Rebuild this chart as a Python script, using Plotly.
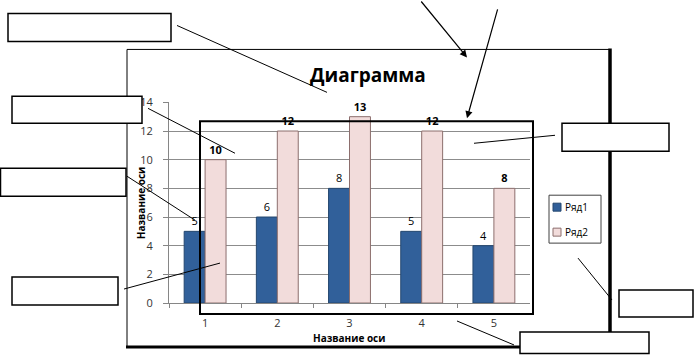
import plotly.graph_objects as go

categories = ["1", "2", "3", "4", "5"]
series1 = [5, 6, 8, 5, 4]
series2 = [10, 12, 13, 12, 8]
series_names = ["Ряд1", "Ряд2"]
yticks = [0, 2, 4, 6, 8, 10, 12, 14]
title_text = "Диаграмма"
axis_title = "Название оси"

W, H = 694, 361
# the photographed page shows slightly compressed vertically; compensate
YOFF, YSC = 7.5, 0.96
def px(x):
    return x / W
def py(y):
    yp = (y - YOFF) / YSC
    yp = min(yp, H - 0.5)
    return 1 - yp / H

FONT = "Open Sans"
C1, C1L = "#31609A", "#24476F"
C2, C2L = "#F2DCDB", "#8C6E6D"

fig = go.Figure()
fig.add_trace(go.Bar(
    x=categories, y=series1, name=series_names[0],
    marker=dict(color=C1, line=dict(color=C1L, width=1)),
    text=series1, textposition="outside", cliponaxis=False,
    textfont=dict(family=FONT, size=11, color="#000000"),
    showlegend=False,
))
fig.add_trace(go.Bar(
    x=categories, y=series2, name=series_names[1],
    marker=dict(color=C2, line=dict(color=C2L, width=1)),
    text=series2, texttemplate="<b>%{y}</b>", textposition="outside", cliponaxis=False,
    textfont=dict(family=FONT, size=11, color="#000000"),
    showlegend=False,
))

shapes = []
def line(x0, y0, x1, y1, w=1, color="black"):
    shapes.append(dict(type="line", xref="paper", yref="paper",
                       x0=px(x0), y0=py(y0), x1=px(x1), y1=py(y1),
                       line=dict(color=color, width=w), layer="above"))
def box(x0, y0, x1, y1, w=1.5, fill="white", color="black"):
    shapes.append(dict(type="rect", xref="paper", yref="paper",
                       x0=px(x0), y0=py(y0), x1=px(x1), y1=py(y1),
                       line=dict(color=color, width=w), fillcolor=fill, layer="above"))

# chart frame
line(127, 49, 610, 49, 1)
line(127, 49, 127, 347, 1)
line(610, 48, 610, 348, 3.5)
line(126, 347, 611, 347, 3)
# highlighted plot area
shapes.append(dict(type="rect", xref="paper", yref="paper",
                   x0=px(200), y0=py(121), x1=px(533), y1=py(314),
                   line=dict(color="black", width=2), layer="above"))
# legend (box + keys)
box(549, 195, 601, 243, w=1, color="#404040")
box(553, 203, 561, 211, w=1, fill=C1, color=C1L)
box(553, 228, 561, 236, w=1, fill=C2, color=C2L)
# callout lines
line(177, 25, 327, 92)
line(148, 108, 235, 153)
line(127, 176, 195, 220)
line(124, 289, 220, 263)
line(474, 143, 555, 135)
line(578, 258, 612, 300)
line(457, 321, 514, 345)
# callout boxes
box(8, 13, 171, 41)
box(12, 96, 142, 123)
box(0.5, 168, 126, 196)
box(12, 277, 118, 305)
box(562, 123, 669, 151)
box(619, 290, 693, 317)
box(520, 332, 649, 359)

annotations = [
    dict(text="<b>" + title_text + "</b>", x=px(368), y=py(75), xref="paper", yref="paper",
         xanchor="center", yanchor="middle",
         showarrow=False, font=dict(family=FONT, size=19, color="#000000")),
    dict(text="<b>" + axis_title + "</b>", x=px(349), y=py(338), xref="paper", yref="paper",
         xanchor="center", yanchor="middle",
         showarrow=False, font=dict(family=FONT, size=10, color="#000000")),
    dict(text="<b>" + axis_title + "</b>", x=px(141), y=py(203), xref="paper", yref="paper",
         xanchor="center", yanchor="middle",
         showarrow=False, textangle=-90, font=dict(family=FONT, size=10, color="#000000")),
]
for name, ly in zip(series_names, [207, 232]):
    annotations.append(dict(text=name, x=px(563), y=py(ly), xref="paper", yref="paper",
                            xanchor="left", yanchor="middle", showarrow=False,
                            font=dict(family=FONT, size=10, color="#000000")))
for (tx, ty, hx, hy) in [(420, 0, 467, 57), (498, 12, 467, 118)]:
    hyp = (hy - YOFF) / YSC
    typ = (ty - YOFF) / YSC
    annotations.append(dict(text="", x=px(hx), y=1 - hyp / H, xref="paper", yref="paper",
                            showarrow=True, ax=tx - hx, ay=typ - hyp, arrowhead=2,
                            arrowsize=1.2, arrowwidth=1.2, arrowcolor="black"))

fig.update_layout(
    width=W, height=H, margin=dict(l=0, r=0, t=0, b=0),
    paper_bgcolor="white", plot_bgcolor="white",
    barmode="group", bargap=0.42, bargroupgap=0,
    font=dict(family=FONT, size=11, color="#000000"),
    showlegend=False,
    shapes=shapes, annotations=annotations,
    xaxis=dict(domain=[px(169), px(530)], type="category",
               showline=True, linecolor="#868686", linewidth=1,
               ticks="outside", tickson="boundaries", ticklen=4, tickcolor="#868686",
               ticklabelstandoff=10,
               showgrid=False, tickfont=dict(family=FONT, size=11, color="#333333"),
               fixedrange=True),
    yaxis=dict(domain=[py(303), py(102)], range=[0, 14], tickvals=yticks,
               showline=True, linecolor="#868686", linewidth=1,
               ticks="outside", ticklen=5, tickcolor="#868686",
               ticklabelstandoff=8,
               showgrid=True, gridcolor="#8C8C8C", gridwidth=1,
               tickfont=dict(family=FONT, size=11, color="#333333"),
               zeroline=False, fixedrange=True),
)

fig.write_html("out.html", config={"displayModeBar": False},
               post_script="document.body.style.margin='0';document.body.style.overflow='hidden';")
